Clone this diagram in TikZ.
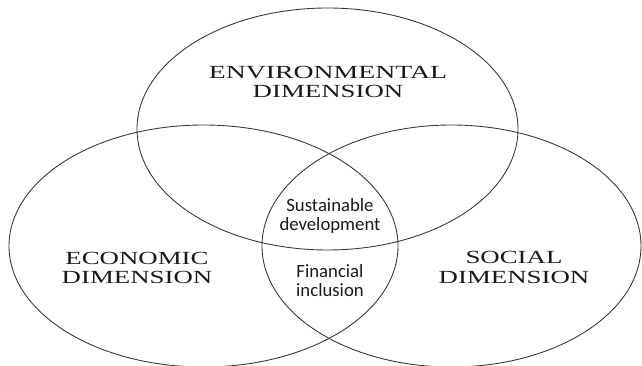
\documentclass[tikz,border=0pt]{standalone}
\usepackage{fontspec}
\setmainfont{Liberation Serif}
\newfontfamily\labelfont{Carlito}
\usepackage{tikz}
\usetikzlibrary{positioning}
\definecolor{LineColor}{RGB}{55,55,55}
\definecolor{TextColor}{RGB}{25,25,25}
\tikzstyle{ring} = [draw=LineColor, line width=0.75pt]
\tikzstyle{dimension} = [align=center, text=TextColor, inner sep=0pt, font=\fontsize{15.8}{17}\selectfont]
\tikzstyle{overlap} = [align=center, text=TextColor, inner sep=0pt, font=\labelfont\fontsize{16}{16.4}\selectfont]
\newcommand{\wide}[2][1.45]{\scalebox{#1}[1]{#2}}

\begin{document}
\begin{tikzpicture}[x=0.03cm, y=0.03cm]
            \useasboundingbox (0,0) rectangle (642,366);

            % The three dimensions
            \draw[ring] (327.5,237) ellipse [x radius=190.5, y radius=121];
            \draw[ring] (203.5,120) ellipse [x radius=194.5, y radius=121];
            \draw[ring] (451.5,120) ellipse [x radius=189.5, y radius=121];

            % Dimension names
            \node[dimension] (env) at (328,284) {\wide[1.5]{ENVIRONMENTAL}\\\wide{DIMENSION}};
            \node[dimension] (eco) at (137,98) {\wide{ECONOMIC}\\\wide{DIMENSION}};
            \node[dimension] (soc) at (514,98.5) {\wide{SOCIAL}\\\wide{DIMENSION}};

            % Centre of the diagram
            \node[overlap] (sust) at (330,150) {Sustainable\\development};
            \node[overlap, below=30 of sust] (fin) {Financial\\inclusion};
        \end{tikzpicture}
\end{document}
